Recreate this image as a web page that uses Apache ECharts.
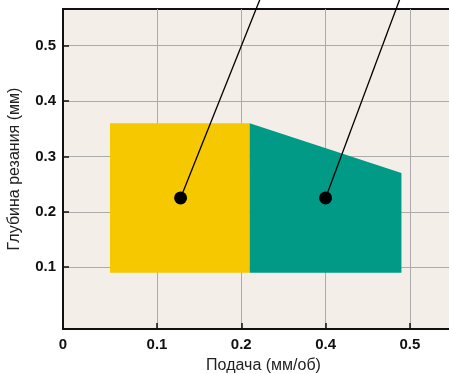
<!DOCTYPE html>
<html>
<head>
<meta charset="utf-8">
<script src="https://cdn.jsdelivr.net/npm/echarts@6/dist/echarts.min.js"></script>
<style>
  html, body { margin: 0; padding: 0; background: #fff; }
  #chart { width: 449px; height: 374px; }
</style>
</head>
<body>
<div id="chart"></div>
<script>
// x axis is drawn unevenly: ticks are spaced equally, but labels jump 0.2 -> 0.4
const xTickLabels = [0, 0.1, 0.2, 0.4, 0.5]
const xTickSlots = [-0.115, 1, 2, 3, 4]
const yTicks = [0.1, 0.2, 0.3, 0.4, 0.5]

// zones (feed mm/rev, depth mm)
const yellowX = [0.05, 0.22, 0.22, 0.05]
const yellowY = [0.09, 0.09, 0.36, 0.36]
const greenX = [0.22, 0.49, 0.49, 0.22]
const greenY = [0.09, 0.09, 0.27, 0.36]

// markers and their leader lines going up out of the plot
const dotX = [0.128, 0.4]
const dotY = [0.225, 0.225]
const calloutX = [0.253, 0.492]
const calloutY = [0.6, 0.6]

// real feed value -> slot on the drawn axis (piecewise linear)
const toSlot = (v) => {
  let i = 0
  while (i < xTickLabels.length - 2 && v > xTickLabels[i + 1]) i++
  const t = (v - xTickLabels[i]) / (xTickLabels[i + 1] - xTickLabels[i])
  return xTickSlots[i] + t * (xTickSlots[i + 1] - xTickSlots[i])
}

const polySeries = (xs, ys, color) => {
  const pts = xs.map((x, i) => [toSlot(x), ys[i]])
  return {
    type: 'custom',
    data: pts,
    z: 2,
    renderItem: (params, api) => {
      if (params.dataIndex !== 0) return
      return {
        type: 'polygon',
        shape: { points: pts.map((p) => api.coord(p)) },
        style: { fill: color }
      }
    }
  }
}

const labelFont = {
  fontFamily: 'Liberation Sans, Arial, sans-serif',
  fontSize: 15,
  fontWeight: 'bold',
  color: '#111'
}
const nameFont = {
  fontFamily: 'Liberation Sans, Arial, sans-serif',
  fontSize: 16,
  color: '#222'
}

const myChart = echarts.init(document.getElementById('chart'))
const options = {
  animation: false,
  grid: {
    left: 63,
    top: 9,
    right: -15,
    bottom: 45,
    outerBoundsMode: 'none',
    show: true,
    backgroundColor: '#f3efe8',
    borderColor: '#111',
    borderWidth: 2
  },
  xAxis: {
    type: 'value',
    min: xTickSlots[0],
    max: 4.642,
    name: 'Подача (мм/об)',
    nameLocation: 'middle',
    nameGap: 29,
    nameTextStyle: nameFont,
    axisLine: { onZero: false, lineStyle: { color: '#111', width: 2 } },
    axisTick: {
      customValues: xTickSlots.slice(1),
      inside: true,
      length: 6,
      lineStyle: { color: '#111', width: 1.5 }
    },
    axisLabel: {
      ...labelFont,
      margin: 8,
      customValues: xTickSlots,
      formatter: (v) => {
        let best = 0
        xTickSlots.forEach((s, i) => {
          if (Math.abs(s - v) < Math.abs(xTickSlots[best] - v)) best = i
        })
        return String(xTickLabels[best])
      }
    },
    splitLine: { show: true, lineStyle: { color: '#ababab', width: 1 } }
  },
  yAxis: {
    type: 'value',
    min: -0.0116,
    max: 0.566,
    name: 'Глубина резания (мм)',
    nameLocation: 'middle',
    nameGap: 40,
    nameTextStyle: nameFont,
    axisLine: { show: true, onZero: false, lineStyle: { color: '#111', width: 2 } },
    axisTick: {
      show: true,
      customValues: yTicks,
      inside: true,
      length: 6,
      lineStyle: { color: '#111', width: 1.5 }
    },
    axisLabel: {
      ...labelFont,
      margin: 7,
      customValues: yTicks,
      formatter: (v) => v.toFixed(1)
    },
    splitLine: { show: true, lineStyle: { color: '#ababab', width: 1 } }
  },
  series: [
    polySeries(yellowX, yellowY, '#f6c800'),
    polySeries(greenX, greenY, '#009a87'),
    ...dotX.map((x, i) => ({
      type: 'line',
      data: [
        [toSlot(x), dotY[i]],
        [toSlot(calloutX[i]), calloutY[i]]
      ],
      showSymbol: false,
      clip: false,
      z: 3,
      lineStyle: { color: '#000', width: 1.3 }
    })),
    {
      type: 'scatter',
      data: dotX.map((x, i) => [toSlot(x), dotY[i]]),
      symbolSize: 13,
      z: 4,
      itemStyle: { color: '#000', opacity: 1 }
    }
  ]
}
myChart.setOption(options)
</script>
</body>
</html>
